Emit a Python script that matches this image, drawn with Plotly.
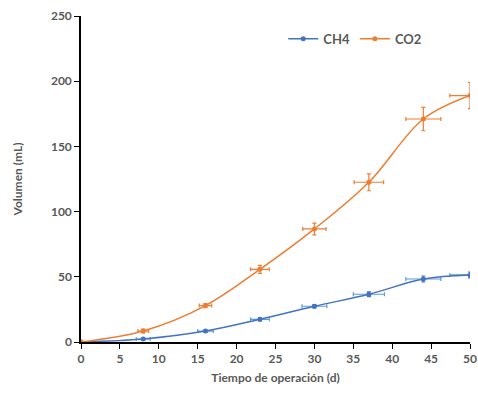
import plotly.graph_objects as go

dias = [0, 8, 16, 23, 30, 37, 44, 50]
ch4 = [0, 2.3, 8.4, 17.4, 27.4, 36.6, 48.3, 51.4]
co2 = [0, 8.4, 27.9, 55.7, 86.7, 122.5, 171.0, 189.0]
ch4_err_y = [0, 0.8, 1.0, 1.2, 1.3, 1.8, 2.3, 2.3]
co2_err_y = [0, 1.5, 1.5, 3.0, 4.5, 6.5, 9.0, 10.0]
ch4_err_x_plus = [0, 0.9, 1.0, 1.2, 1.6, 2.0, 2.25, 0]
ch4_err_x_minus = [0, 0.9, 1.0, 1.2, 1.6, 2.0, 2.25, 2.6]
co2_err_x_plus = [0, 0.7, 0.8, 1.2, 1.5, 1.9, 2.25, 0]
co2_err_x_minus = [0, 0.7, 0.8, 1.2, 1.5, 1.9, 2.25, 2.6]

grey = "#595959"
font_fam = "Lato, 'Open Sans', sans-serif"

fig = go.Figure()
fig.add_trace(go.Scatter(
    x=dias, y=ch4, name="CH4", mode="lines+markers", line_shape="spline",
    line=dict(color="#4472C4", width=1.5),
    marker=dict(color="#4472C4", size=5),
    error_y=dict(type="data", array=ch4_err_y, color="#4472C4", thickness=1.2, width=2),
    error_x=dict(type="data", array=ch4_err_x_plus, arrayminus=ch4_err_x_minus,
                 symmetric=False, color="#5B9BD5", thickness=1.2, width=2),
))
fig.add_trace(go.Scatter(
    x=dias, y=co2, name="CO2", mode="lines+markers", line_shape="spline",
    line=dict(color="#ED7D31", width=1.5),
    marker=dict(color="#ED7D31", size=5),
    error_y=dict(type="data", array=co2_err_y, color="#ED7D31", thickness=1.2, width=2),
    error_x=dict(type="data", array=co2_err_x_plus, arrayminus=co2_err_x_minus,
                 symmetric=False, color="#ED7D31", thickness=1.2, width=2),
))

fig.update_layout(
    width=478, height=410,
    margin=dict(l=81, r=8, t=16, b=68, autoexpand=False),
    paper_bgcolor="white", plot_bgcolor="white",
    font=dict(family=font_fam, color=grey, size=12),
    showlegend=True,
    legend=dict(orientation="h", x=0.52, y=0.93, xanchor="left", yanchor="middle",
                font=dict(size=13, color=grey, family=font_fam, weight="bold"),
                bgcolor="rgba(0,0,0,0)", itemwidth=30, tracegroupgap=0),
)
fig.update_xaxes(
    range=[0, 50], tickmode="linear", tick0=0, dtick=5, automargin=False,
    showline=True, linecolor="black", linewidth=1.5,
    ticks="outside", ticklen=5, tickcolor="black", showgrid=False, zeroline=False,
    tickfont=dict(size=12, color=grey, family=font_fam, weight="bold"),
    title=dict(text="<b>Tiempo de operación (d)</b>", font=dict(size=12, color=grey), standoff=8),
)
fig.update_yaxes(
    range=[0, 250], tickmode="linear", tick0=0, dtick=50, automargin=False,
    showline=True, linecolor="black", linewidth=1.5,
    ticks="outside", ticklen=5, tickcolor="black", showgrid=False, zeroline=False,
    tickfont=dict(size=12, color=grey, family=font_fam, weight="bold"),
    title=dict(text="<b>Volumen (mL)</b>", font=dict(size=12, color=grey), standoff=26),
)

fig.write_html("out.html", config={"displayModeBar": False},
               post_script="document.body.style.margin='0';")
